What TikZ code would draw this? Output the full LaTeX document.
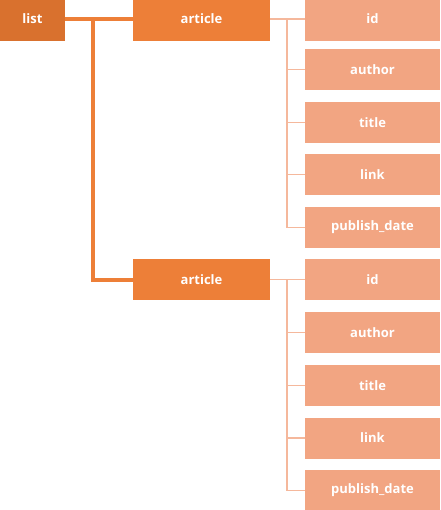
\documentclass[tikz,border=0pt]{standalone}
\usepackage{fontspec}
\setmainfont{Open Sans}
\begin{document}
\begin{tikzpicture}[x=1pt,y=-1pt,
  base/.style={rectangle, inner sep=0pt, text=white, font=\bfseries\fontsize{13}{15}\selectfont},
  rootbox/.style={base, fill=listc, minimum width=65pt, minimum height=44pt},
  artbox/.style={base, fill=artc, minimum width=137pt},
  leafbox/.style={base, fill=leafc, minimum width=135pt},
  thick link/.style={draw=artc, line width=4pt},
  thin link/.style={draw=linkc, line width=1.6pt}
]
\definecolor{listc}{HTML}{D9712E}
\definecolor{artc}{HTML}{ED7F38}
\definecolor{leafc}{HTML}{F2A582}
\definecolor{linkc}{HTML}{F5B89C}
\useasboundingbox (0,0) rectangle (440,510);
\clip (0,0) rectangle (440,510);
% top row (clipped at top)
\node[rootbox] (list) at (32.5,19) {list};
\node[artbox, minimum height=44pt] (art1) at (201.5,19) {article};
\node[leafbox, minimum height=44pt] (id1) at (372.5,19) {id};
\node[leafbox, minimum height=41pt] (au1) at (372.5,69.5) {author};
\node[leafbox, minimum height=41pt] (ti1) at (372.5,122.5) {title};
\node[leafbox, minimum height=41pt] (li1) at (372.5,174.5) {link};
\node[leafbox, minimum height=41pt] (pd1) at (372.5,227.5) {publish\_date};
% second group
\node[artbox, minimum height=41pt] (art2) at (201.5,279.5) {article};
\node[leafbox, minimum height=41pt] (id2) at (372.5,279.5) {id};
\node[leafbox, minimum height=41pt] (au2) at (372.5,332.5) {author};
\node[leafbox, minimum height=41pt] (ti2) at (372.5,385.5) {title};
\node[leafbox, minimum height=41pt] (li2) at (372.5,438) {link};
\node[leafbox, minimum height=41pt] (pd2) at (372.5,490.5) {publish\_date};
% junctions
\coordinate (j0) at (93,19);
\coordinate (j1) at (287,19);
\coordinate (j2) at (287,279.5);
% thick connectors
\draw[thick link] (list.east) -- (art1.west);
\draw[thick link] (j0) |- (art2.west);
% thin connectors group 1
\draw[thin link] (art1.east) -- (id1.west);
\foreach \n in {au1,ti1,li1,pd1} \draw[thin link] (j1) |- (\n.west);
% thin connectors group 2
\draw[thin link] (art2.east) -- (id2.west);
\foreach \n in {au2,ti2,li2,pd2} \draw[thin link] (j2) |- (\n.west);
\end{tikzpicture}
\end{document}
